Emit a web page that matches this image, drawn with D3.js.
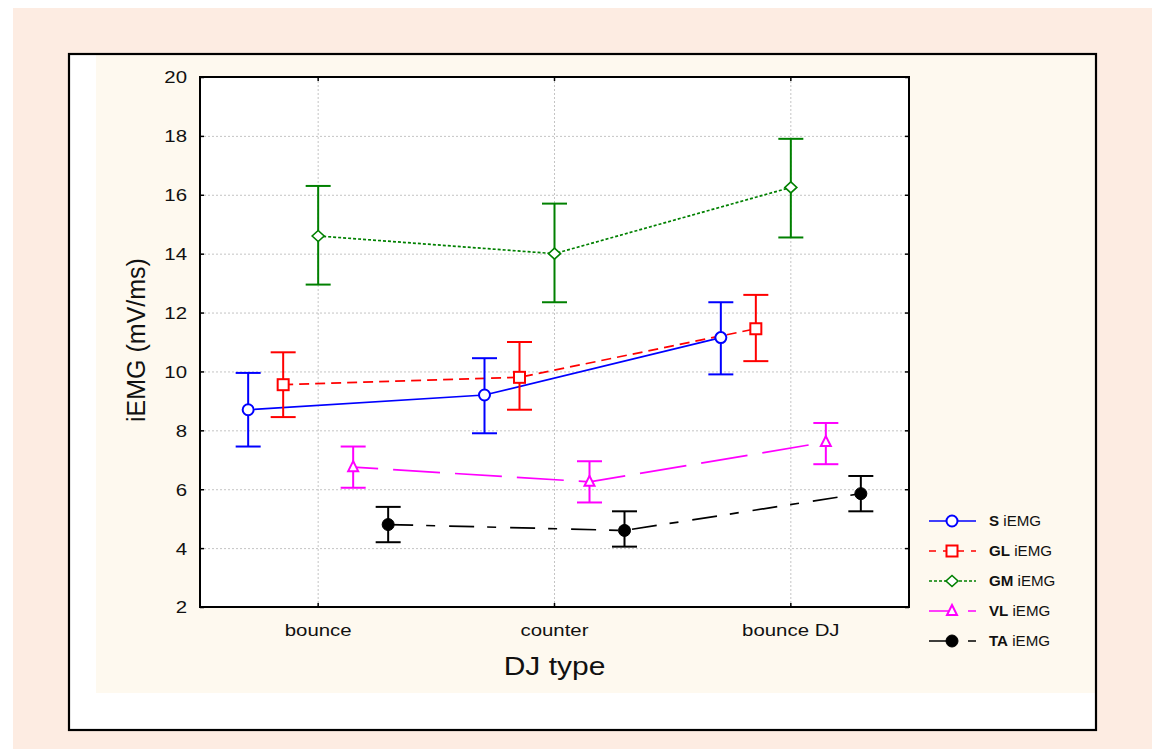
<!DOCTYPE html>
<html>
<head>
<meta charset="utf-8">
<script src="https://cdn.jsdelivr.net/npm/d3@7"></script>
<style>
  html, body { margin: 0; padding: 0; background: #ffffff; }
  svg { display: block; font-family: "Liberation Sans", Arial, sans-serif; }
</style>
</head>
<body>
<svg id="chart" width="1152" height="749"></svg>
<script>
// ---------------- DATA ----------------
const categories = ["bounce", "counter", "bounce DJ"];
const seriesNames = ["S", "GL", "GM", "VL", "TA"];
const seriesSuffix = " iEMG";

const sMean  = [8.70, 9.20, 11.15];
const sLow   = [7.45, 7.90, 9.90];
const sHigh  = [9.95, 10.45, 12.35];

const glMean = [9.55, 9.80, 11.45];
const glLow  = [8.45, 8.70, 10.35];
const glHigh = [10.65, 11.00, 12.60];

const gmMean = [14.60, 14.00, 16.25];
const gmLow  = [12.95, 12.35, 14.55];
const gmHigh = [16.30, 15.70, 17.90];

const vlMean = [6.75, 6.25, 7.60];
const vlLow  = [6.05, 5.55, 6.85];
const vlHigh = [7.45, 6.95, 8.25];

const taMean = [4.80, 4.60, 5.85];
const taLow  = [4.20, 4.05, 5.25];
const taHigh = [5.40, 5.25, 6.45];

const yTicks = [2, 4, 6, 8, 10, 12, 14, 16, 18, 20];
const yTitle = "iEMG (mV/ms)";
const xTitle = "DJ type";

// ---------------- STYLES ----------------
const styles = {
  S:  { color: "#0000ff", dash: null,            offset: 0,  legendDash: null,      marker: "circle",   fill: "#ffffff" },
  GL: { color: "#ff0000", dash: "10,6",          offset: 0,  legendDash: "7,7",     marker: "square",   fill: "#ffffff" },
  GM: { color: "#008000", dash: "3,2",           offset: 0,  legendDash: "3,2",     marker: "diamond",  fill: "#ffffff" },
  VL: { color: "#ff00ff", dash: "47,15",         offset: 22, legendDash: "26,13,10", marker: "triangle", fill: "#ffffff" },
  TA: { color: "#000000", dash: "25,13,9,14",    offset: 0,  legendDash: "25,14,8", marker: "dot",      fill: "#000000" }
};
const seriesData = {
  S:  { mean: sMean,  low: sLow,  high: sHigh },
  GL: { mean: glMean, low: glLow, high: glHigh },
  GM: { mean: gmMean, low: gmLow, high: gmHigh },
  VL: { mean: vlMean, low: vlLow, high: vlHigh },
  TA: { mean: taMean, low: taLow, high: taHigh }
};

const FONT = '"Liberation Sans", Arial, sans-serif';
const svg = d3.select("#chart");

// Backgrounds
svg.append("rect").attr("x", 13).attr("y", 8).attr("width", 1139).attr("height", 741).attr("fill", "#fdece2");
svg.append("rect").attr("x", 69).attr("y", 54).attr("width", 1027).attr("height", 676).attr("fill", "#ffffff");
svg.append("rect").attr("x", 96).attr("y", 54).attr("width", 1000).attr("height", 639).attr("fill", "#fef9ef");
svg.append("rect").attr("x", 69).attr("y", 54).attr("width", 1027).attr("height", 676)
  .attr("fill", "none").attr("stroke", "#000").attr("stroke-width", 2.2);

// Plot area
const P = { left: 200, top: 77, right: 909, bottom: 607 };
const x = d3.scaleBand().domain(categories).range([P.left, P.right]);
const xs = d3.scalePoint().domain(seriesNames).range([-70, 70]);
const y = d3.scaleLinear().domain([2, 20]).range([P.bottom, P.top]);
const cx = (cat) => x(cat) + x.bandwidth() / 2;

svg.append("rect").attr("x", P.left).attr("y", P.top)
  .attr("width", P.right - P.left).attr("height", P.bottom - P.top).attr("fill", "#ffffff");

// Gridlines
const gridH = svg.append("g").attr("transform", `translate(${P.left},0)`)
  .call(d3.axisLeft(y).tickValues(yTicks.filter(d => d > 2 && d < 20)).tickSize(-(P.right - P.left)).tickFormat(""));
gridH.select(".domain").remove();
gridH.selectAll("line").attr("stroke", "#c4c4c4").attr("stroke-dasharray", "2,2").attr("stroke-width", 1);

const gridV = svg.append("g").attr("transform", `translate(0,${P.bottom})`)
  .call(d3.axisBottom(x).tickSize(-(P.bottom - P.top)).tickFormat(""));
gridV.select(".domain").remove();
gridV.selectAll("line").attr("stroke", "#c4c4c4").attr("stroke-dasharray", "2,2").attr("stroke-width", 1);

// Axes
const axL = svg.append("g").attr("transform", `translate(${P.left},0)`)
  .call(d3.axisLeft(y).tickValues(yTicks).tickSize(-4).tickSizeOuter(0).tickPadding(0).tickFormat(d3.format("d")));
axL.select(".domain").remove();
axL.selectAll("line").attr("stroke", "#000").attr("stroke-width", 1.5);
axL.selectAll("text").attr("x", 0).attr("dy", "0.35em")
  .attr("transform", "translate(-13,0) scale(1.2,1)")
  .attr("font-family", FONT).attr("font-size", 17).attr("fill", "#111").attr("text-anchor", "end");

const axR = svg.append("g").attr("transform", `translate(${P.right},0)`)
  .call(d3.axisRight(y).tickValues(yTicks).tickSize(-4).tickSizeOuter(0).tickFormat(""));
axR.select(".domain").remove();
axR.selectAll("line").attr("stroke", "#000").attr("stroke-width", 1.5);

const axT = svg.append("g").attr("transform", `translate(0,${P.top})`)
  .call(d3.axisTop(x).tickSize(-4).tickSizeOuter(0).tickFormat(""));
axT.select(".domain").remove();
axT.selectAll("line").attr("stroke", "#000").attr("stroke-width", 1.5);

const axB = svg.append("g").attr("transform", `translate(0,${P.bottom})`)
  .call(d3.axisBottom(x).tickSize(-4).tickSizeOuter(0).tickPadding(0));
axB.select(".domain").remove();
axB.selectAll("line").attr("stroke", "#000").attr("stroke-width", 1.5);
axB.selectAll("text").attr("y", 0).attr("dy", 0)
  .attr("transform", "translate(0,29) scale(1.2,1)")
  .attr("font-family", FONT).attr("font-size", 17).attr("fill", "#111");

// Plot frame
svg.append("rect").attr("x", P.left).attr("y", P.top)
  .attr("width", P.right - P.left).attr("height", P.bottom - P.top)
  .attr("fill", "none").attr("stroke", "#000").attr("stroke-width", 2);

// Marker drawing helper
function drawMarker(g, type, px, py, color, fill) {
  if (type === "circle" || type === "dot") {
    g.append("circle").attr("cx", px).attr("cy", py).attr("r", type === "dot" ? 6 : 5.5)
      .attr("fill", fill).attr("stroke", color).attr("stroke-width", type === "dot" ? 1 : 2);
  } else if (type === "square") {
    g.append("rect").attr("x", px - 5.5).attr("y", py - 5.5).attr("width", 11).attr("height", 11)
      .attr("fill", fill).attr("stroke", color).attr("stroke-width", 2);
  } else if (type === "diamond") {
    g.append("path").attr("d", `M${px},${py - 5.5}L${px + 6},${py}L${px},${py + 5.5}L${px - 6},${py}Z`)
      .attr("fill", fill).attr("stroke", color).attr("stroke-width", 1.6);
  } else if (type === "triangle") {
    g.append("path").attr("d", `M${px},${py - 6}L${px + 5},${py + 4}L${px - 5},${py + 4}Z`)
      .attr("fill", fill).attr("stroke", color).attr("stroke-width", 2);
  }
}

// Series
const plotG = svg.append("g");
seriesNames.forEach(name => {
  const st = styles[name], sd = seriesData[name];
  const pts = categories.map((c, i) => ({ c, m: sd.mean[i], lo: sd.low[i], hi: sd.high[i] }));
  const line = d3.line().x(d => cx(d.c) + xs(name)).y(d => y(d.m));
  const p = plotG.append("path").attr("d", line(pts)).attr("fill", "none")
    .attr("stroke", st.color).attr("stroke-width", 1.7);
  if (st.dash) p.attr("stroke-dasharray", st.dash).attr("stroke-dashoffset", st.offset);
});
seriesNames.forEach(name => {
  const st = styles[name], sd = seriesData[name];
  const g = plotG.append("g");
  categories.forEach((c, i) => {
    const px = cx(c) + xs(name);
    g.append("line").attr("x1", px).attr("x2", px).attr("y1", y(sd.low[i])).attr("y2", y(sd.high[i]))
      .attr("stroke", st.color).attr("stroke-width", 2);
    [sd.low[i], sd.high[i]].forEach(v => {
      g.append("line").attr("x1", px - 12.5).attr("x2", px + 12.5).attr("y1", y(v)).attr("y2", y(v))
        .attr("stroke", st.color).attr("stroke-width", 2);
    });
    drawMarker(g, st.marker, px, y(sd.mean[i]), st.color, st.fill);
  });
});

// Legend
const legY = d3.scalePoint().domain(seriesNames).range([521, 641]);
const leg = svg.append("g");
seriesNames.forEach(name => {
  const st = styles[name];
  const ly = legY(name);
  const l = leg.append("line").attr("x1", 929).attr("x2", 976).attr("y1", ly).attr("y2", ly)
    .attr("stroke", st.color).attr("stroke-width", 1.7);
  if (st.legendDash) l.attr("stroke-dasharray", st.legendDash);
  drawMarker(leg, st.marker, 952, ly, st.color, st.fill);
  const t = leg.append("text").attr("transform", `translate(989,${ly + 5}) scale(1.08,1)`)
    .attr("font-family", FONT).attr("font-size", 14).attr("fill", "#111");
  t.append("tspan").attr("font-weight", "bold").text(name);
  t.append("tspan").text(seriesSuffix);
});

// Titles
svg.append("text").attr("transform", `translate(${(P.left + P.right) / 2},675) scale(1.2,1)`)
  .attr("text-anchor", "middle").attr("font-family", FONT).attr("font-size", 25).attr("fill", "#111")
  .text(xTitle);
svg.append("text").attr("transform", "translate(145,340) rotate(-90)")
  .attr("text-anchor", "middle").attr("font-family", FONT).attr("font-size", 25).attr("fill", "#111")
  .text(yTitle);
</script>
</body>
</html>
